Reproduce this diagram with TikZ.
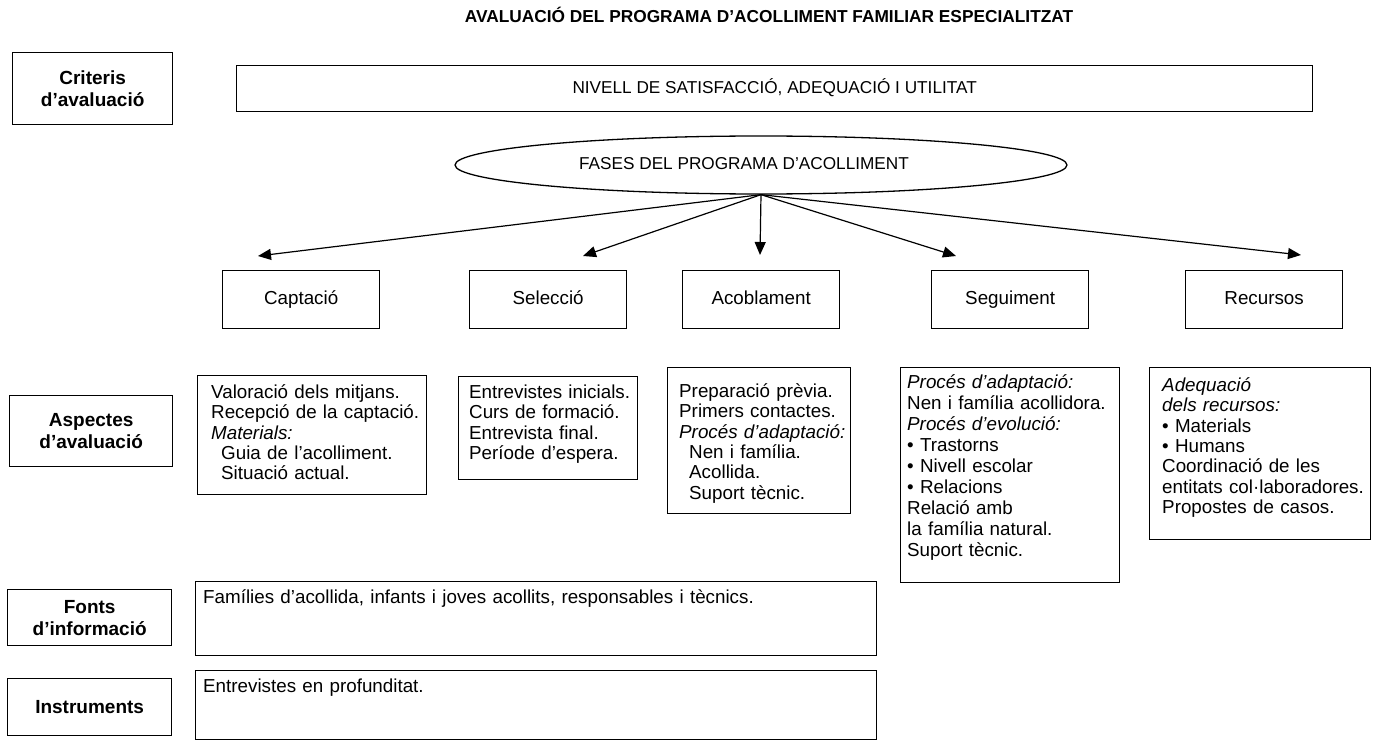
\documentclass[tikz,border=0pt]{standalone}
\usepackage{fontspec}
\setmainfont{Liberation Sans}
\usetikzlibrary{shapes.geometric,arrows.meta}
\begin{document}
\begin{tikzpicture}[x=1pt,y=-1pt,
  box/.style={draw,line width=1.3pt,inner sep=0pt,anchor=north west},
  lbl/.style={font=\fontsize{19}{22}\selectfont\bfseries,align=center,inner sep=0pt},
  body/.style={font=\fontsize{18.8}{20.3}\selectfont,text width=260pt,align=left,anchor=base west,inner sep=0pt},
  phase/.style={font=\fontsize{18.8}{22}\selectfont,inner sep=0pt,text height=13.5pt,text depth=4pt},
  head/.style={font=\fontsize{17.2}{20}\selectfont,inner sep=0pt,text height=12.5pt,text depth=3.5pt},
  arr/.style={line width=1.2pt,-{Triangle[length=13pt,width=11pt]}}
]
\useasboundingbox (0,0) rectangle (1377,741);

\node[head,font=\fontsize{17.3}{20}\selectfont\bfseries] (title) at (769,18) {AVALUACIÓ DEL PROGRAMA D’ACOLLIMENT FAMILIAR ESPECIALITZAT};

% left labels
\node[box,minimum width=160pt,minimum height=72pt] (crit) at (12,52) {};
\node[lbl] (critt) at (crit.center) {Criteris\\d’avaluació};
\node[box,minimum width=163pt,minimum height=71pt] (asp) at (9,395) {};
\node[lbl] (aspt) at (asp.center) {Aspectes\\d’avaluació};
\node[box,minimum width=164pt,minimum height=56pt] (fon) at (7,589) {};
\node[lbl] (font) at (fon.center) {Fonts\\d’informació};
\node[box,minimum width=164pt,minimum height=57pt] (ins) at (7,678) {};
\node[lbl] (inst) at (ins.center) {Instruments};

% top box and ellipse
\node[box,minimum width=1076pt,minimum height=46pt] (niv) at (236,65) {};
\node[head] (nivt) at (niv.center) {NIVELL DE SATISFACCIÓ, ADEQUACIÓ I UTILITAT};
\node[draw,ellipse,line width=1.3pt,minimum width=612pt,minimum height=58pt,inner sep=0pt] (ell) at (761,165) {};
\node[head] (ellt) at (744,165) {FASES DEL PROGRAMA D’ACOLLIMENT};

% phase boxes
\node[box,minimum width=157pt,minimum height=58pt] (capt) at (222,270) {};
\node[phase] at (capt.center) {Captació};
\node[box,minimum width=157pt,minimum height=58pt] (sel) at (469,270) {};
\node[phase] at (sel.center) {Selecció};
\node[box,minimum width=157pt,minimum height=58pt] (acob) at (682,270) {};
\node[phase] at (acob.center) {Acoblament};
\node[box,minimum width=157pt,minimum height=58pt] (seg) at (931,270) {};
\node[phase] at (seg.center) {Seguiment};
\node[box,minimum width=157pt,minimum height=58pt] (rec) at (1185,270) {};
\node[phase] at (rec.center) {Recursos};

% arrows
\coordinate (t1) at (258,256);
\coordinate (t2) at (583,256);
\coordinate (t3) at (760,255);
\coordinate (t4) at (956,256);
\coordinate (t5) at (1301,255);
\foreach \t in {t1,t2,t3,t4,t5} \draw[arr] (ell.south) -- (\t);

% content boxes
\node[box,minimum width=229pt,minimum height=119pt] (c1) at (197,375) {};
\node[body] (c1t) at (211,398.5) {Valoració dels mitjans.\\Recepció de la captació.\\\textit{Materials:}\\\hspace*{10pt}Guia de l’acolliment.\\\hspace*{10pt}Situació actual.};
\node[box,minimum width=179pt,minimum height=103pt] (c2) at (458,376) {};
\node[body] (c2t) at (469,398.5) {Entrevistes inicials.\\Curs de formació.\\Entrevista final.\\Període d’espera.};
\node[box,minimum width=183pt,minimum height=146pt] (c3) at (667,367) {};
\node[body] (c3t) at (679,397.5) {Preparació prèvia.\\Primers contactes.\\\textit{Procés d’adaptació:}\\\hspace*{10pt}Nen i família.\\\hspace*{10pt}Acollida.\\\hspace*{10pt}Suport tècnic.};
\node[box,minimum width=219pt,minimum height=215pt] (c4) at (900,367) {};
\node[body,font=\fontsize{18.8}{21}\selectfont] (c4t) at (907,388.5) {\textit{Procés d’adaptació:}\\Nen i família acollidora.\\\textit{Procés d’evolució:}\\• Trastorns\\• Nivell escolar\\• Relacions\\Relació amb\\la família natural.\\Suport tècnic.};
\node[box,minimum width=221pt,minimum height=172pt] (c5) at (1149,367) {};
\node[body] (c5t) at (1162,391.5) {\textit{Adequació}\\\textit{dels recursos:}\\• Materials\\• Humans\\Coordinació de les\\entitats col·laboradores.\\Propostes de casos.};

% bottom boxes
\node[box,minimum width=681pt,minimum height=74pt] (fb) at (195,581) {};
\node[body,text width=660pt] (fbt) at (203,603.5) {Famílies d’acollida, infants i joves acollits, responsables i tècnics.};
\node[box,minimum width=681pt,minimum height=69pt] (ib) at (195,670) {};
\node[body,text width=660pt] (ibt) at (203,692.5) {Entrevistes en profunditat.};
\end{tikzpicture}
\end{document}
